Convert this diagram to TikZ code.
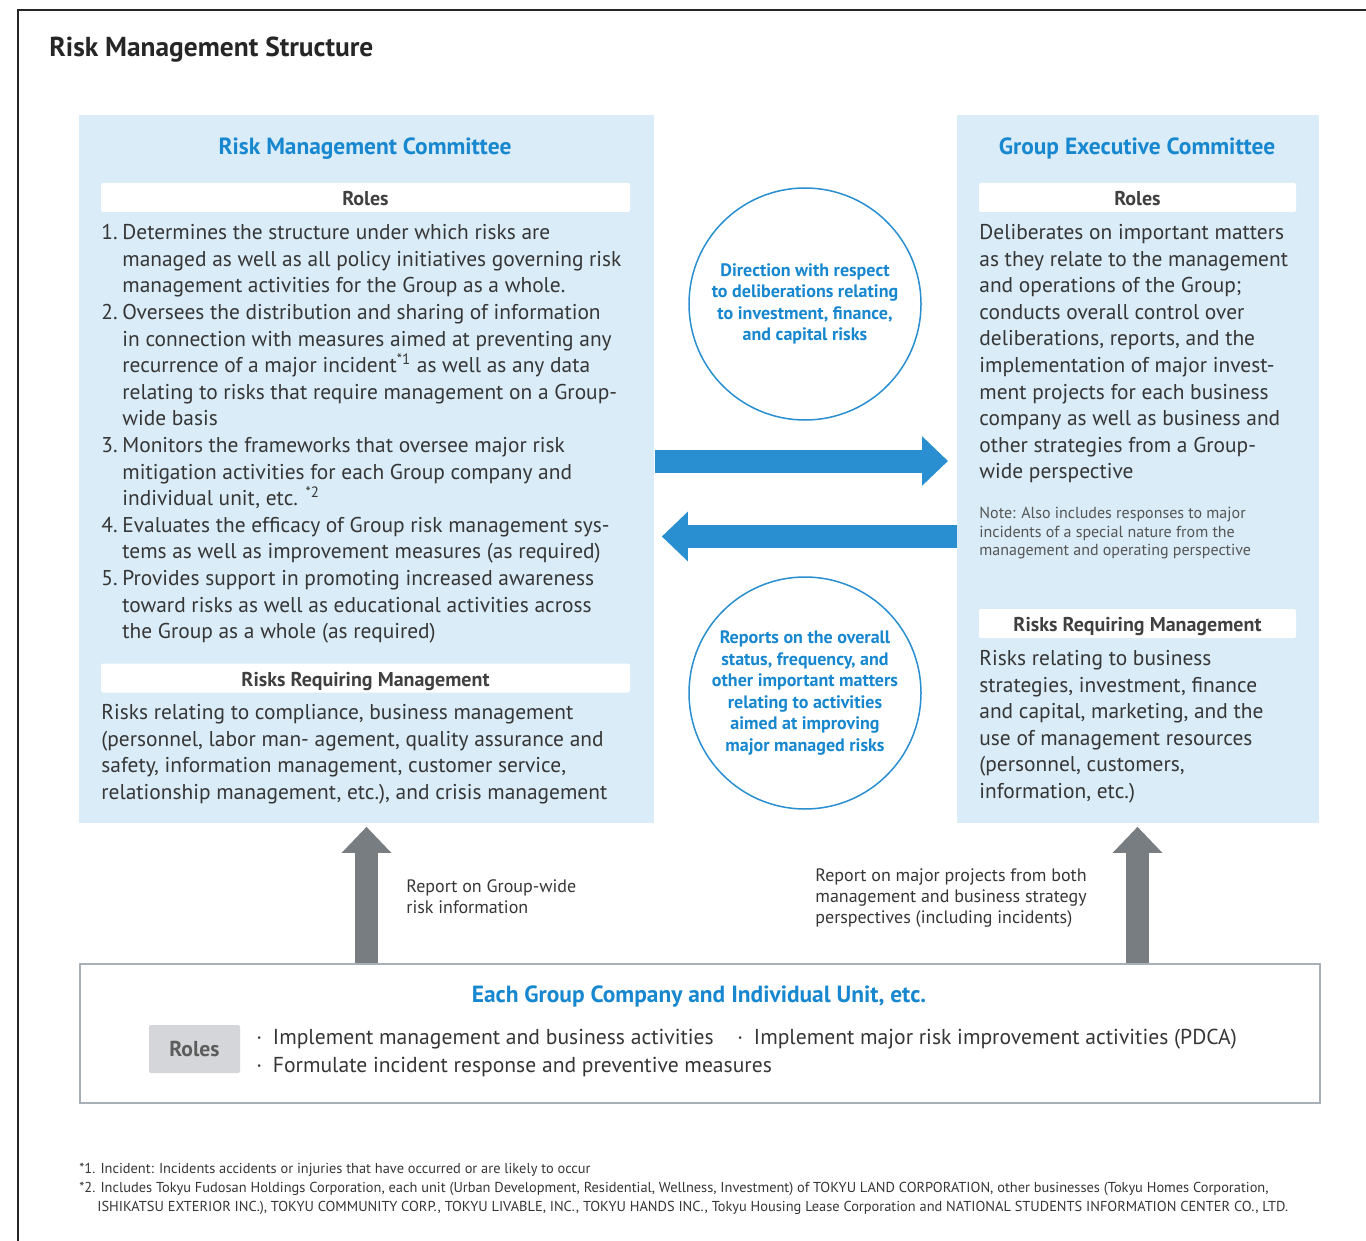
\documentclass[tikz,border=0pt]{standalone}
\usepackage{fontspec}
\setmainfont{PT Sans}
\usetikzlibrary{arrows.meta}

\newcommand{\itemno}[1]{\makebox[10.5pt][l]{#1}}
\newcommand{\itemgap}{\hspace*{10.5pt}}

\begin{document}
\begin{tikzpicture}[x=0.5pt, y=-0.5pt,
	panel/.style={fill=panelcol, inner sep=0pt, anchor=north west, minimum height=354pt},
	rolebar/.style={fill=white, rounded corners=1pt, inner sep=0pt, minimum height=14.5pt,
		text height=1.6ex, text depth=0pt,
		font=\fontsize{10pt}{11pt}\selectfont\bfseries, text=headgray},
	heading/.style={anchor=base, font=\fontsize{11.7pt}{13pt}\selectfont\bfseries, text=titleblue},
	bodytext/.style={anchor=north west, inner sep=0pt, align=left,
		font=\fontsize{10.7pt}{13.3pt}\selectfont, text=bodygray},
	bubble/.style={circle, draw=arrowblue, line width=0.75pt, fill=white, minimum size=116pt,
		inner sep=0pt, align=center, font=\fontsize{9pt}{10.75pt}\selectfont\bfseries, text=titleblue},
	reportlabel/.style={anchor=north west, inner sep=0pt, align=left,
		font=\fontsize{9pt}{10.6pt}\selectfont, text=bodygray},
	flowarrow/.style={line width=11.5pt, -{Triangle[length=13pt, width=24pt]}}]
	
	\definecolor{panelcol}{HTML}{D9ECF7}
	\definecolor{titleblue}{HTML}{1787CF}
	\definecolor{arrowblue}{HTML}{2A8FD0}
	\definecolor{upgray}{HTML}{787D82}
	\definecolor{boxgray}{HTML}{A7AFB7}
	\definecolor{rolegray}{HTML}{D4D6D9}
	\definecolor{headgray}{HTML}{404040}
	\definecolor{bodygray}{HTML}{363636}
	\definecolor{notegray}{HTML}{555555}
	
	\useasboundingbox (0,0) rectangle (1366,1241);
	
	% Frame and title
	\draw[black!85, line width=0.75pt] (1366,10) -- (18,10) -- (18,1241);
	\node[anchor=base west, inner sep=0pt, font=\fontsize{13.7pt}{15pt}\selectfont\bfseries, text=black!85]
	(title) at (49,57) {Risk Management Structure};
	
	% Committee panels
	\node[panel, minimum width=287.5pt] (rmc) at (79,115) {};
	\node[panel, minimum width=181pt] (gec) at (957,115) {};
	
	\node[heading] (rmchead) at (365,155) {Risk Management Committee};
	\node[heading] (gechead) at (1137,155) {Group Executive Committee};
	
	\node[rolebar, minimum width=264.5pt] (rmcroles) at (365.5,197.5) {Roles};
	\node[rolebar, minimum width=158.5pt] (gecroles) at (1137.5,197.5) {Roles};
	\node[rolebar, minimum width=264.5pt] (rmcrisks) at (365.5,678) {Risks Requiring Management};
	\node[rolebar, minimum width=158.5pt] (gecrisks) at (1137.5,623.5) {Risks Requiring Management};
	
	% Roles of the Risk Management Committee
	\node[bodytext] (rmclist) at (101,224) {%
		\itemno{1.}Determines the structure under which risks are\\
		\itemgap managed as well as all policy initiatives governing risk\\
		\itemgap management activities for the Group as a whole.\\
		\itemno{2.}Oversees the distribution and sharing of information\\
		\itemgap in connection with measures aimed at preventing any\\
		\itemgap recurrence of a major incident\textsuperscript{*1} as well as any data\\
		\itemgap relating to risks that require management on a Group-\\
		\itemgap wide basis\\
		\itemno{3.}Monitors the frameworks that oversee major risk\\
		\itemgap mitigation activities for each Group company and\\
		\itemgap individual unit, etc. \textsuperscript{*2}\\
		\itemno{4.}Evaluates the efficacy of Group risk management sys-\\
		\itemgap tems as well as improvement measures (as required)\\
		\itemno{5.}Provides support in promoting increased awareness\\
		\itemgap toward risks as well as educational activities across\\
		\itemgap the Group as a whole (as required)};
	
	\node[bodytext] (rmcrisktext) at (101,704) {%
		Risks relating to compliance, business management\\
		(personnel, labor man- agement, quality assurance and\\
		safety, information management, customer service,\\
		relationship management, etc.), and crisis management};
	
	% Roles of the Group Executive Committee
	\node[bodytext] (geclist) at (979,224) {%
		Deliberates on important matters\\
		as they relate to the management\\
		and operations of the Group;\\
		conducts overall control over\\
		deliberations, reports, and the\\
		implementation of major invest-\\
		ment projects for each business\\
		company as well as business and\\
		other strategies from a Group-\\
		wide perspective};
	
	\node[bodytext, font=\fontsize{8pt}{9.25pt}\selectfont, text=notegray] (gecnote) at (979,507) {%
		Note: Also includes responses to major\\
		incidents of a special nature from the\\
		management and operating perspective};
	
	\node[bodytext] (gecrisktext) at (979,650) {%
		Risks relating to business\\
		strategies, investment, finance\\
		and capital, marketing, and the\\
		use of management resources\\
		(personnel, customers,\\
		information, etc.)};
	
	% Exchange between the committees
	\node[bubble] (direction) at (805,304) {Direction with respect\\to deliberations relating\\to investment, finance,\\and capital risks};
	\node[bubble] (reports) at (805,693) {Reports on the overall\\status, frequency, and\\other important matters\\relating to activities\\aimed at improving\\major managed risks};
	
	\coordinate (toright) at (0,461);
	\coordinate (toleft) at (0,536.5);
	\draw[flowarrow, arrowblue, shorten >=4.5pt] (rmc.east |- toright) -- (gec.west |- toright);
	\draw[flowarrow, arrowblue, shorten >=3.5pt] (gec.west |- toleft) -- (rmc.east |- toleft);
	
	% Group companies
	\node[draw=boxgray, line width=0.75pt, fill=white, inner sep=0pt, anchor=north west,
	minimum width=620pt, minimum height=69.5pt] (each) at (79,963) {};
	\node[heading] (eachhead) at (699,1002) {Each Group Company and Individual Unit, etc.};
	\node[fill=rolegray, rounded corners=1pt, inner sep=0pt, minimum width=45.5pt, minimum height=24pt,
	font=\fontsize{10.8pt}{12pt}\selectfont\bfseries, text=headgray!85] (eachroles) at (194.5,1049) {Roles};
	\node[bodytext, font=\fontsize{10.8pt}{14pt}\selectfont] (eachlist) at (256,1029) {%
		·\enspace Implement management and business activities\\
		·\enspace Formulate incident response and preventive measures};
	\node[bodytext, font=\fontsize{10.8pt}{14pt}\selectfont] (eachpdca) at (737,1029) {%
		·\enspace Implement major risk improvement activities (PDCA)};
	
	% Reports upward
	\coordinate (leftup) at (366.5,0);
	\coordinate (rightup) at (1137.5,0);
	\draw[flowarrow, upgray, shorten >=1.5pt] (each.north -| leftup) -- (rmc.south -| leftup);
	\draw[flowarrow, upgray, shorten >=1.5pt] (each.north -| rightup) -- (gec.south -| rightup);
	
	\node[reportlabel] (leftreport) at (406,879) {Report on Group-wide\\risk information};
	\node[reportlabel] (rightreport) at (815,868) {Report on major projects from both\\management and business strategy\\perspectives (including incidents)};
	
	% Footnotes
	\node[bodytext, font=\fontsize{7.2pt}{9.5pt}\selectfont] (notes) at (79,1163) {%
		*1. Incident: Incidents accidents or injuries that have occurred or are likely to occur\\
		*2. Includes Tokyu Fudosan Holdings Corporation, each unit (Urban Development, Residential, Wellness, Investment) of TOKYU LAND CORPORATION, other businesses (Tokyu Homes Corporation,\\
		\hspace*{9pt}ISHIKATSU EXTERIOR INC.), TOKYU COMMUNITY CORP., TOKYU LIVABLE, INC., TOKYU HANDS INC., Tokyu Housing Lease Corporation and NATIONAL STUDENTS INFORMATION CENTER CO., LTD.};
	
\end{tikzpicture}
\end{document}
